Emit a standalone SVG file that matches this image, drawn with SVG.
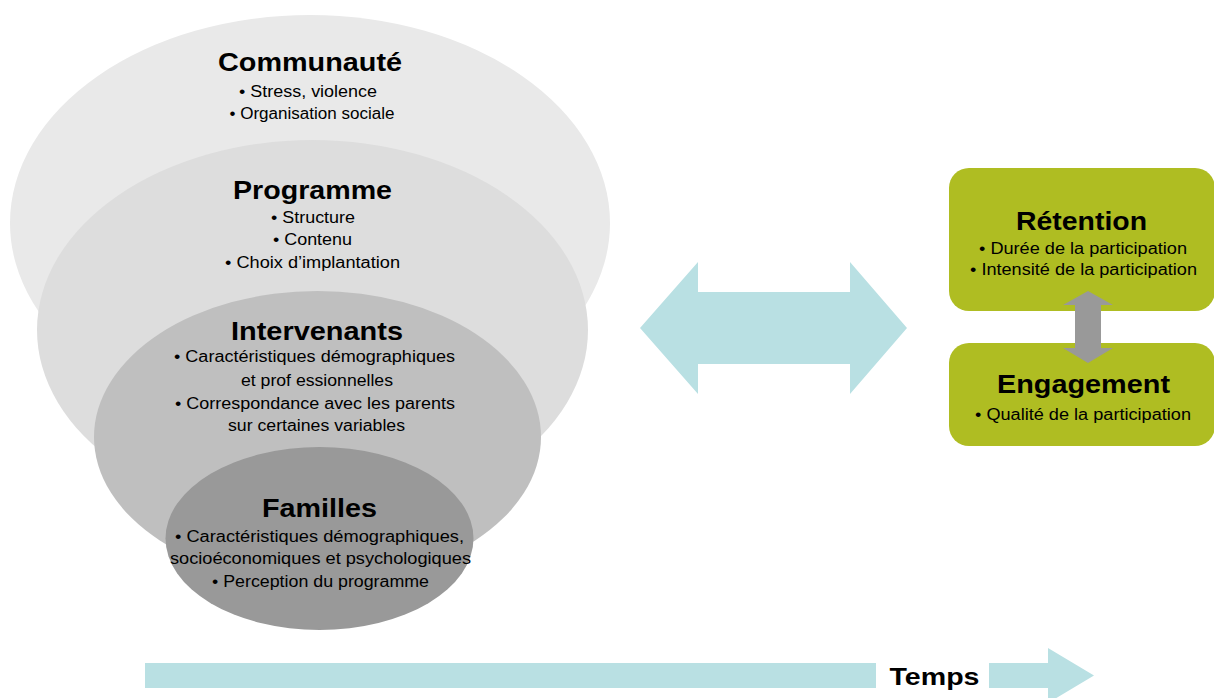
<svg xmlns="http://www.w3.org/2000/svg" width="1214" height="698" viewBox="0 0 1214 698">
<style>
text{font-family:"Liberation Sans",Arial,sans-serif;fill:#000;text-anchor:middle}
.h{font-size:26px;font-weight:bold}
.b{font-size:16px}
.cy{fill:#b9e0e3}
.gr{fill:#999999}
.box{fill:#afbd22}
</style>
<rect width="1214" height="698" fill="#ffffff"/>
<g id="communaute">
<ellipse cx="310" cy="223" rx="300" ry="208" fill="#e9e9e9"/>
<text class="h" x="310" y="71" textLength="184" lengthAdjust="spacingAndGlyphs">Communauté</text>
<text class="b" x="308" y="97" textLength="138" lengthAdjust="spacingAndGlyphs">• Stress, violence</text>
<text class="b" x="312" y="119" textLength="165" lengthAdjust="spacingAndGlyphs">• Organisation sociale</text>
</g>
<g id="programme">
<ellipse cx="312.5" cy="330" rx="275.5" ry="190" fill="#dddddd"/>
<text class="h" x="312.5" y="199" textLength="159" lengthAdjust="spacingAndGlyphs">Programme</text>
<text class="b" x="313" y="223" textLength="84" lengthAdjust="spacingAndGlyphs">• Structure</text>
<text class="b" x="312.5" y="245" textLength="79" lengthAdjust="spacingAndGlyphs">• Contenu</text>
<text class="b" x="312.5" y="268" textLength="175" lengthAdjust="spacingAndGlyphs">• Choix d’implantation</text>
</g>
<g id="intervenants">
<ellipse cx="317.5" cy="437" rx="223.5" ry="146" fill="#bfbfbf"/>
<text class="h" x="317" y="340" textLength="172" lengthAdjust="spacingAndGlyphs">Intervenants</text>
<text class="b" x="314.5" y="362" textLength="281" lengthAdjust="spacingAndGlyphs">• Caractéristiques démographiques</text>
<text class="b" x="317" y="386" textLength="152" lengthAdjust="spacingAndGlyphs">et prof essionnelles</text>
<text class="b" x="315" y="409" textLength="280" lengthAdjust="spacingAndGlyphs">• Correspondance avec les parents</text>
<text class="b" x="316.5" y="431" textLength="177" lengthAdjust="spacingAndGlyphs">sur certaines variables</text>
</g>
<g id="familles">
<ellipse cx="319.5" cy="538.5" rx="154" ry="91.5" fill="#999999"/>
<text class="h" x="319.5" y="517" textLength="115" lengthAdjust="spacingAndGlyphs">Familles</text>
<text class="b" x="319.5" y="542" textLength="289" lengthAdjust="spacingAndGlyphs">• Caractéristiques démographiques,</text>
<text class="b" x="320.5" y="564" textLength="301" lengthAdjust="spacingAndGlyphs">socioéconomiques et psychologiques</text>
<text class="b" x="320.5" y="587" textLength="217" lengthAdjust="spacingAndGlyphs">• Perception du programme</text>
</g>
<g id="retention">
<rect class="box" x="949" y="168" width="266" height="143" rx="20" ry="20"/>
<text class="h" x="1081.5" y="230" textLength="131" lengthAdjust="spacingAndGlyphs">Rétention</text>
<text class="b" x="1083" y="254" textLength="208" lengthAdjust="spacingAndGlyphs">• Durée de la participation</text>
<text class="b" x="1083.5" y="275" textLength="227" lengthAdjust="spacingAndGlyphs">• Intensité de la participation</text>
</g>
<g id="engagement">
<rect class="box" x="949" y="343" width="266" height="103" rx="20" ry="20"/>
<text class="h" x="1083.5" y="393" textLength="173" lengthAdjust="spacingAndGlyphs">Engagement</text>
<text class="b" x="1083" y="420" textLength="216" lengthAdjust="spacingAndGlyphs">• Qualité de la participation</text>
</g>
<g id="connectors">
<polygon class="cy" points="640,328 698,262 698,292 850,292 850,262 907,328 850,394 850,364 698,364 698,394"/>
<polygon class="gr" points="1088,291 1113,305 1101,305 1101,348 1113,348 1088,363 1063,348 1075,348 1075,305 1063,305"/>
<rect class="cy" x="145" y="663" width="731" height="25"/>
<polygon class="cy" points="989,663 1048,663 1048,648 1094,675.5 1048,703 1048,688 989,688"/>
<text class="h" x="934.5" y="685" style="font-size:24px" textLength="90" lengthAdjust="spacingAndGlyphs">Temps</text>
</g>
</svg>
